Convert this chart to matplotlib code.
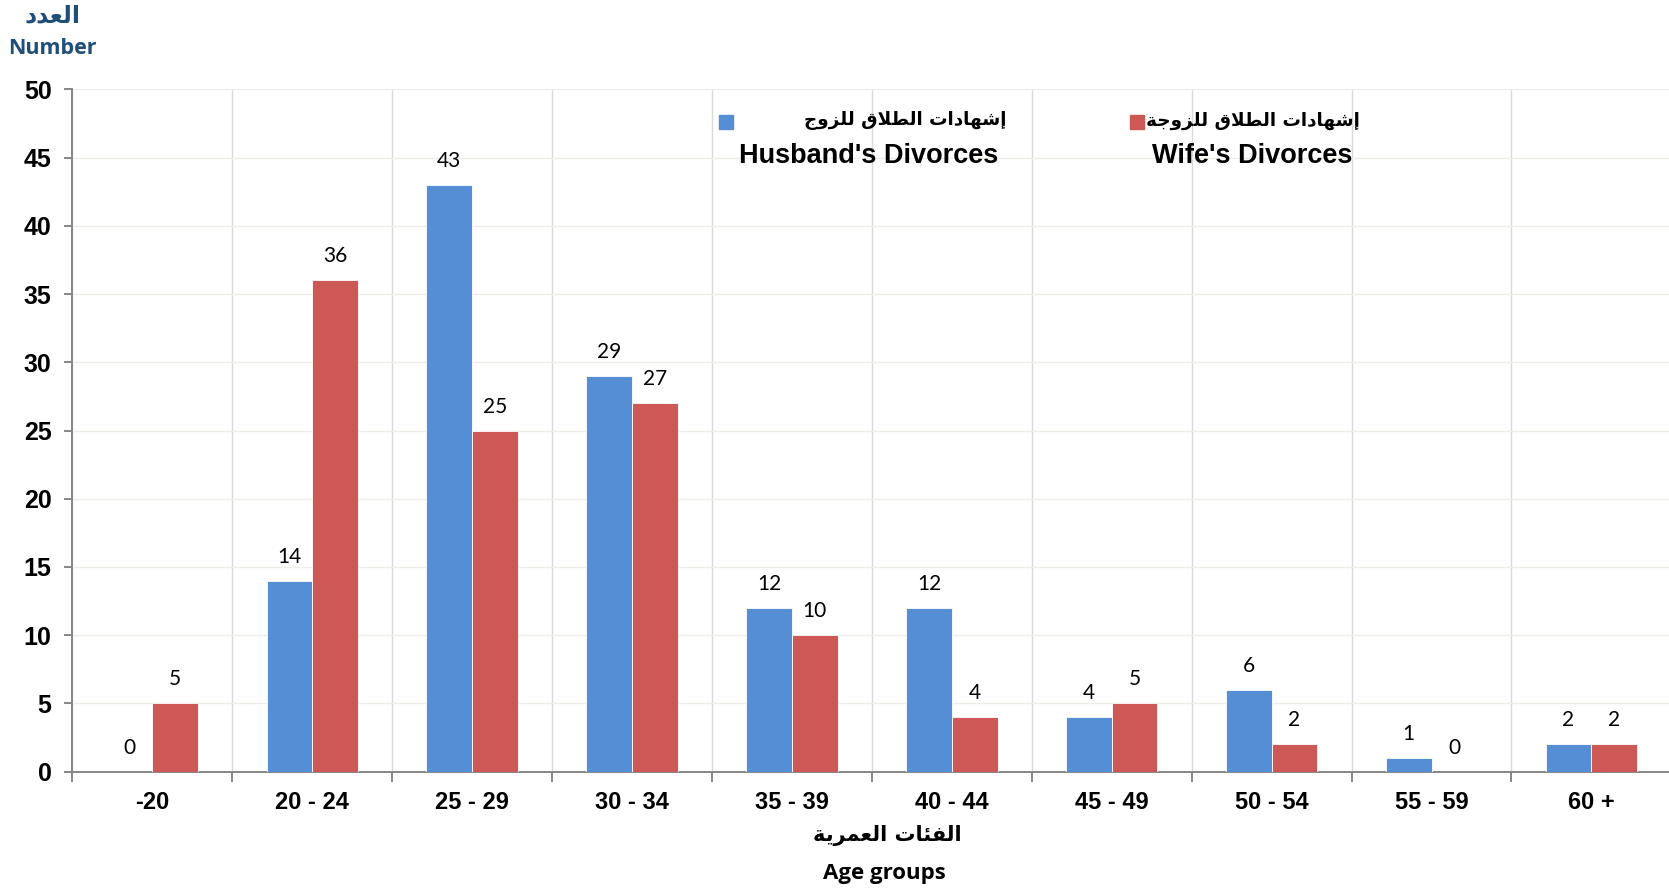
import matplotlib
matplotlib.use('Agg')
import matplotlib.pyplot as plt
import numpy as np
from matplotlib.patches import Rectangle

# البيانات
categories = ['-20', '20 - 24', '25 - 29', '30 - 34', '35 - 39',
              '40 - 44', '45 - 49', '50 - 54', '55 - 59', '60 +']
husband = [0, 14, 43, 29, 12, 12, 4, 6, 1, 2]
wife = [5, 36, 25, 27, 10, 4, 5, 2, 0, 2]

label_husband_ar = 'إشهادات الطلاق للزوج'
label_husband_en = "Husband's Divorces"
label_wife_ar = 'إشهادات الطلاق للزوجة'
label_wife_en = "Wife's Divorces"
ylabel_ar = 'العدد'
ylabel_en = 'Number'
xlabel_ar = 'الفئات العمرية'
xlabel_en = 'Age groups'

BLUE = '#558ED5'
RED = '#CD5856'

# matplotlib لا يقوم بتشكيل الحروف العربية، لذلك نستعمل أشكال العرض (Presentation Forms-B)
FORMS = {
    'ا': ('\uFE8D', '\uFE8E', None, None),
    'إ': ('\uFE87', '\uFE88', None, None),
    'د': ('\uFEA9', '\uFEAA', None, None),
    'ر': ('\uFEAD', '\uFEAE', None, None),
    'ز': ('\uFEAF', '\uFEB0', None, None),
    'و': ('\uFEED', '\uFEEE', None, None),
    'ة': ('\uFE93', '\uFE94', None, None),
    'ت': ('\uFE95', '\uFE96', '\uFE97', '\uFE98'),
    'ج': ('\uFE9D', '\uFE9E', '\uFE9F', '\uFEA0'),
    'ش': ('\uFEB5', '\uFEB6', '\uFEB7', '\uFEB8'),
    'ط': ('\uFEC1', '\uFEC2', '\uFEC3', '\uFEC4'),
    'ع': ('\uFEC9', '\uFECA', '\uFECB', '\uFECC'),
    'ف': ('\uFED1', '\uFED2', '\uFED3', '\uFED4'),
    'ق': ('\uFED5', '\uFED6', '\uFED7', '\uFED8'),
    'ل': ('\uFEDD', '\uFEDE', '\uFEDF', '\uFEE0'),
    'م': ('\uFEE1', '\uFEE2', '\uFEE3', '\uFEE4'),
    'ه': ('\uFEE9', '\uFEEA', '\uFEEB', '\uFEEC'),
    'ي': ('\uFEF1', '\uFEF2', '\uFEF3', '\uFEF4'),
    'ئ': ('\uFE89', '\uFE8A', '\uFE8B', '\uFE8C'),
}
LAM_ALEF = {'ا': ('\uFEFB', '\uFEFC'), 'إ': ('\uFEF9', '\uFEFA')}


def shape(text):
    chars = []
    i = 0
    while i < len(text):
        c = text[i]
        if c == 'ل' and i + 1 < len(text) and text[i + 1] in LAM_ALEF:
            chars.append(('LA', text[i + 1]))
            i += 2
        else:
            chars.append((c, None))
            i += 1

    def dual(item):
        return item[0] in FORMS and FORMS[item[0]][2] is not None

    def joins(item):
        return item[0] == 'LA' or item[0] in FORMS

    out = []
    for k, item in enumerate(chars):
        c, extra = item
        prev = chars[k - 1] if k > 0 else None
        nxt = chars[k + 1] if k + 1 < len(chars) else None
        cp = prev is not None and dual(prev) and joins(item)
        cn = dual(item) and nxt is not None and joins(nxt)
        if c == 'LA':
            out.append(LAM_ALEF[extra][1 if cp else 0])
        elif c in FORMS:
            iso, fin, ini, med = FORMS[c]
            if cp and cn:
                out.append(med)
            elif cp:
                out.append(fin)
            elif cn:
                out.append(ini)
            else:
                out.append(iso)
        else:
            out.append(c)
    return ''.join(reversed(out))


AR_FONT = ['DejaVu Sans']
EN_BOLD = ['Liberation Sans', 'DejaVu Sans']
CAL = ['Lato', 'DejaVu Sans']
CAL_BOLD = ['Open Sans', 'DejaVu Sans']

fig = plt.figure(figsize=(16.69, 8.88), dpi=100)
ax = fig.add_axes([0.0434, 0.131, 0.958, 0.7684])

x = np.arange(len(categories))
w = 0.286
b1 = ax.bar(x - w / 2, husband, w, color=BLUE, edgecolor='white', linewidth=0.6, zorder=3)
b2 = ax.bar(x + w / 2, wife, w, color=RED, edgecolor='white', linewidth=0.6, zorder=3)

for bars, vals in ((b1, husband), (b2, wife)):
    for rect, v in zip(bars, vals):
        ax.annotate(str(v), (rect.get_x() + rect.get_width() / 2, v),
                    xytext=(0, 24), textcoords='offset pixels',
                    ha='center', va='center', fontsize=15, family=CAL, color='black')

ax.set_xlim(-0.5, len(categories) - 0.5)
ax.set_ylim(0, 50)
ax.set_yticks(np.arange(0, 51, 5))
ax.set_xticks(x)
ax.set_xticklabels(categories)
ax.set_xticks(np.arange(-0.5, len(categories), 1), minor=True)

for lbl in ax.get_xticklabels():
    lbl.set_fontfamily(EN_BOLD)
    lbl.set_fontweight('bold')
    lbl.set_fontsize(17)
for lbl in ax.get_yticklabels():
    lbl.set_fontfamily(EN_BOLD)
    lbl.set_fontweight('bold')
    lbl.set_fontsize(18)

ax.tick_params(axis='x', which='major', length=0, pad=14)
ax.tick_params(axis='x', which='minor', length=7, width=1.4, color='#868686', direction='out')
ax.tick_params(axis='y', length=6, width=1.4, color='#868686', pad=9)

ax.grid(axis='x', which='minor', color='#D9D9D9', linewidth=1, zorder=0)
ax.grid(axis='y', which='major', color='#EEEEE8', linewidth=1, zorder=0)
ax.set_axisbelow(True)

for s in ('top', 'right'):
    ax.spines[s].set_visible(False)
for s in ('left', 'bottom'):
    ax.spines[s].set_color('#868686')
    ax.spines[s].set_linewidth(1.4)

# عنوان المحور الرأسي
fig.text(52 / 1669, 1 - 15 / 888, shape(ylabel_ar), ha='center', va='center',
         fontsize=17, fontweight='bold', family=AR_FONT, color='#1F4E79')
fig.text(52 / 1669, 1 - 48 / 888, ylabel_en, ha='center', va='center',
         fontsize=15.5, fontweight='bold', family=CAL_BOLD, color='#1F4E79')

# عنوان المحور الأفقي
fig.text(887 / 1669, 1 - 835 / 888, shape(xlabel_ar), ha='center', va='center',
         fontsize=15, fontweight='bold', family=AR_FONT, color='black')
fig.text(884 / 1669, 1 - 873 / 888, xlabel_en, ha='center', va='center',
         fontsize=16, fontweight='bold', family=CAL_BOLD, color='black')

# وسيلة الإيضاح
for cx, col, ar, en, ar_right, en_cx in (
        (726, BLUE, label_husband_ar, label_husband_en, 1006, 869),
        (1137, RED, label_wife_ar, label_wife_en, 1360, 1252)):
    fig.patches.append(Rectangle(((cx - 7) / 1669, 1 - 129 / 888), 14 / 1669, 14 / 888,
                                 transform=fig.transFigure, color=col))
    fig.text(ar_right / 1669, 1 - 121 / 888, shape(ar), ha='right', va='center',
             fontsize=13.2, fontweight='bold', family=AR_FONT, color='black')
    fig.text(en_cx / 1669, 1 - 156 / 888, en, ha='center', va='center',
             fontsize=19.5, fontweight='bold', family=EN_BOLD, color='black')

fig.savefig('out.png', dpi=100)
